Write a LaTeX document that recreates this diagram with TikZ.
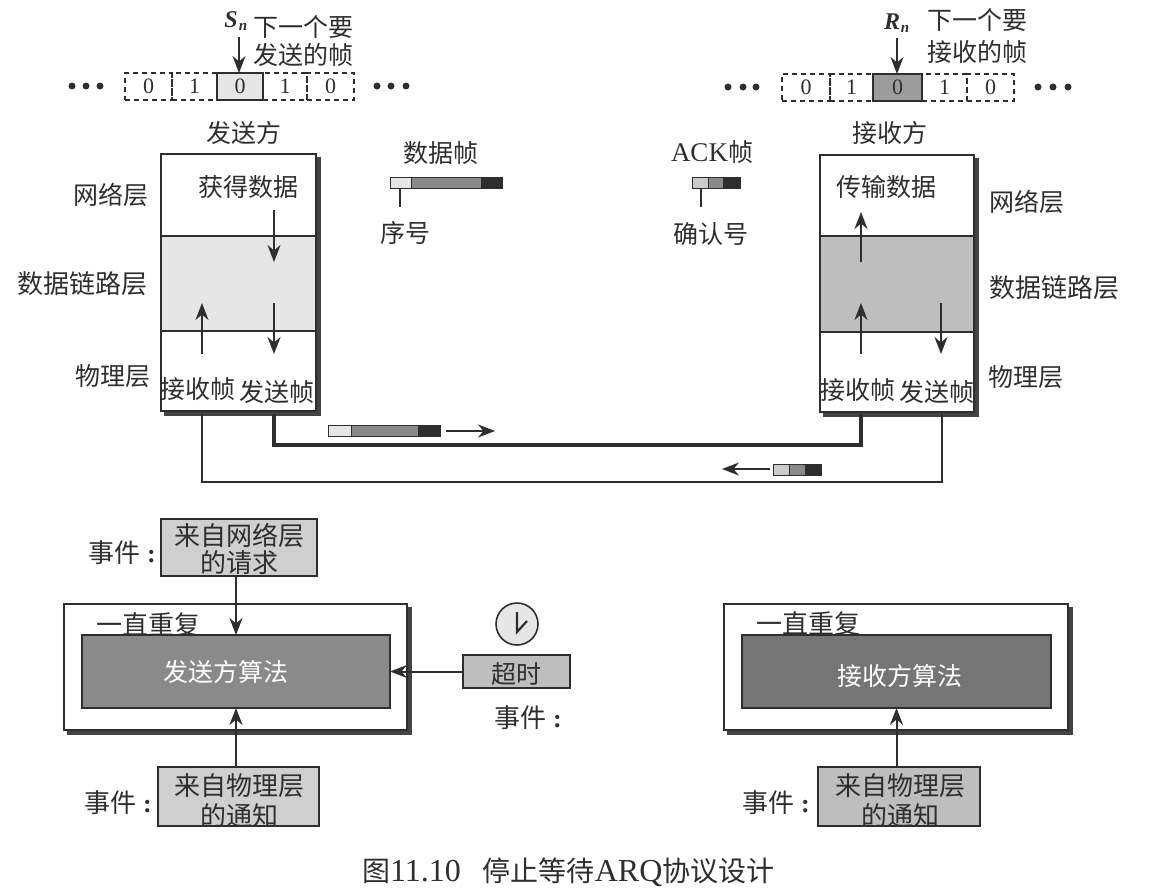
\documentclass[tikz,border=0pt]{standalone}
\usepackage{fontspec}
\setmainfont{Noto Sans CJK SC}
\newfontfamily\lat{Liberation Serif}
\usetikzlibrary{arrows.meta,fit,calc}
\newcommand\fs[1]{\fontsize{#1}{#1}\selectfont}
\newcommand\bx[6][]{\node[fit={(#3,#4)(#5,#6)},inner sep=0pt,outer sep=0pt,#1] (#2) {};}
\definecolor{ink}{HTML}{2E2E2E}
\definecolor{lightg}{HTML}{E6E6E6}
\definecolor{midg}{HTML}{BEBEBE}
\definecolor{darkg}{HTML}{8A8A8A}
\definecolor{evg}{HTML}{CFCFCF}
\newcommand\evlab{事件\hspace{7pt}{\lat\bfseries :}}
\tikzset{
  x=1pt,y=-1pt,
  every node/.style={text=ink},
  lab/.style={font=\fs{25},inner sep=0pt,outer sep=0pt},
  blab/.style={font=\fs{26},inner sep=0pt,outer sep=0pt},
  wlab/.style={font=\fs{25},inner sep=0pt,text=white},
  digit/.style={font=\lat\fs{22},inner sep=0pt},
  cell/.style={draw=ink,dashed,dash pattern=on 5pt off 4pt,line width=1.2pt},
  curcell/.style={draw=ink,solid,line width=2pt},
  layer/.style={draw=ink,line width=1.3pt},
  evbox/.style={draw=ink,line width=1.4pt,fill=evg},
  shade/.style={draw=ink!90,line width=4.5pt},
  arr/.style={draw=ink,line width=2pt,-{Stealth[length=17pt,width=13pt]}},
  wire/.style={draw=ink,line width=1.8pt},
  thickwire/.style={draw=ink,line width=3.2pt},
  dotmark/.style={circle,fill=ink,inner sep=0pt,minimum size=7pt},
  frA/.style={draw=ink,line width=1pt,fill=midg!80},
  frB/.style={draw=ink,line width=1pt,fill=darkg},
  frC/.style={draw=ink,line width=1pt,fill=ink},
}
\begin{document}
\begin{tikzpicture}
\useasboundingbox (0,0) rectangle (1154,894);

% --- sender window
\foreach \n/\x in {a/72,b/86,c/100,d/377,e/391,f/406}{\node[dotmark] (sd\n) at (\x,86) {};}
\bx[cell]{s0}{125}{73}{172}{100}
\bx[cell]{s1}{172}{73}{217}{100}
\bx[cell]{s3}{263}{73}{307}{100}
\bx[cell]{s4}{307}{73}{354}{100}
\bx[curcell,fill=lightg]{s2}{217}{73}{263}{100}
\node[digit] (s0t) at (s0) {0};
\node[digit] (s1t) at (s1) {1};
\node[digit] (s2t) at (s2) {0};
\node[digit] (s3t) at (s3) {1};
\node[digit] (s4t) at (s4) {0};
\node[lab,font=\lat\bfseries\itshape\fs{24}] (sn) at (231,20) {S};
\node[lab,font=\lat\bfseries\itshape\fs{15}] (snsub) at (243,27) {n};
\coordinate (snfrom) at (239,37);
\draw[arr] (snfrom) -- (s2.north -| snfrom);
\node[lab] (st1) at (303,27) {下一个要};
\node[lab] (st2) at (303,55) {发送的帧};

% --- receiver window
\foreach \n/\x in {a/728,b/743,c/756,d/1038,e/1053,f/1068}{\node[dotmark] (rd\n) at (\x,87) {};}
\bx[cell]{r0}{782}{74}{830}{101}
\bx[cell]{r1}{830}{74}{873}{101}
\bx[cell]{r3}{922}{74}{967}{101}
\bx[cell]{r4}{967}{74}{1014}{101}
\bx[curcell,fill=darkg!85]{r2}{873}{74}{922}{101}
\node[digit] (r0t) at (r0) {0};
\node[digit] (r1t) at (r1) {1};
\node[digit] (r2t) at (r2) {0};
\node[digit] (r3t) at (r3) {1};
\node[digit] (r4t) at (r4) {0};
\node[lab,font=\lat\bfseries\itshape\fs{24}] (rn) at (892,22) {R};
\node[lab,font=\lat\bfseries\itshape\fs{15}] (rnsub) at (905,29) {n};
\coordinate (rnfrom) at (897,38);
\draw[arr] (rnfrom) -- (r2.north -| rnfrom);
\node[lab] (rt1) at (977,20) {下一个要};
\node[lab] (rt2) at (977,52) {接收的帧};

% --- sender stack
\node[lab] (sender) at (244,133) {发送方};
\bx[layer,fill=white]{snet}{161}{154}{316}{236}
\bx[layer,fill=lightg]{sdll}{161}{236}{316}{331}
\bx[layer,fill=white]{sphy}{161}{331}{316}{411}
\draw[shade] ($(snet.north east)+(3,3)$) -- ($(sphy.south east)+(3,3)$) -- ($(sphy.south west)+(3,3)$);
\node[lab] (l1) at (111,195) {网络层};
\node[blab] (l2) at (82,284) {数据链路层};
\node[lab] (l3) at (113,376) {物理层};
\node[lab] (get) at (248,187) {获得数据};
\node[lab] (srx) at (198,389) {接收帧};
\node[lab] (stx) at (277,392) {发送帧};
\coordinate (sa1) at (274,210); \coordinate (sa2) at (274,262);
\coordinate (sa3) at (274,303); \coordinate (sa4) at (274,354);
\coordinate (sa5) at (202,354); \coordinate (sa6) at (202,303);
\draw[arr] (sa1) -- (sa2);
\draw[arr] (sa3) -- (sa4);
\draw[arr] (sa5) -- (sa6);

% --- receiver stack
\node[lab] (receiver) at (890,133) {接收方};
\bx[layer,fill=white]{rnet}{820}{155}{974}{236}
\bx[layer,fill=midg]{rdll}{820}{236}{974}{332}
\bx[layer,fill=white]{rphy}{820}{332}{974}{412}
\draw[shade] ($(rnet.north east)+(3,3)$) -- ($(rphy.south east)+(3,3)$) -- ($(rphy.south west)+(3,3)$);
\node[lab] (rl1) at (1027,202) {网络层};
\node[blab] (rl2) at (1054,288) {数据链路层};
\node[lab] (rl3) at (1026,377) {物理层};
\node[lab] (put) at (886,187) {传输数据};
\node[lab] (rrx) at (858,390) {接收帧};
\node[lab] (rtx) at (937,392) {发送帧};
\coordinate (ra1) at (861,262); \coordinate (ra2) at (861,212);
\coordinate (ra3) at (861,354); \coordinate (ra4) at (861,303);
\coordinate (ra5) at (941,303); \coordinate (ra6) at (941,354);
\draw[arr] (ra1) -- (ra2);
\draw[arr] (ra3) -- (ra4);
\draw[arr] (ra5) -- (ra6);

% --- links
\coordinate (w1) at (274,414); \coordinate (w2) at (861,414);
\coordinate (w3) at (202,414); \coordinate (w4) at (942,414);
\draw[thickwire] (w1) |- (274,445) -| (w2);
\draw[wire] (w3) |- (202,482) -| (w4);

% --- in-transit frames
\bx[frA,fill=lightg]{t1a}{328}{425}{351}{436}
\bx[frB]{t1b}{351}{425}{418}{436}
\bx[frC]{t1c}{418}{425}{440}{436}
\coordinate (t1e) at (495,431);
\coordinate (t1s) at (446,431);
\draw[arr] (t1s) -- (t1e);
\bx[frA]{t2a}{773}{464}{789}{475}
\bx[frB]{t2b}{789}{464}{805}{475}
\bx[frC]{t2c}{805}{464}{821}{475}
\coordinate (t2e) at (722,469);
\coordinate (t2s) at (770,469);
\draw[arr] (t2s) -- (t2e);

% --- legend frames
\node[lab] (dflab) at (441,153) {数据帧};
\bx[frA,fill=lightg]{f1a}{390}{177}{411}{188}
\bx[frB]{f1b}{411}{177}{481}{188}
\bx[frC]{f1c}{481}{177}{502}{188}
\node[lab] (seq) at (405,233) {序号};
\coordinate (f1l) at (400,207);
\draw[line width=1.2pt,draw=ink] (f1a.south -| f1l) -- (f1l);
\node[lab,font=\lat\fs{27}] (ackl) at (712,152) {ACK{\rmfamily\fs{25}帧}};
\bx[frA]{f2a}{692}{177}{708}{188}
\bx[frB]{f2b}{708}{177}{723}{188}
\bx[frC]{f2c}{723}{177}{740}{188}
\node[lab] (ackn) at (711,234) {确认号};
\coordinate (f2l) at (701,207);
\draw[line width=1.2pt,draw=ink] (f2a.south -| f2l) -- (f2l);

% --- sender algorithm
\bx[layer,fill=white]{souter}{64}{604}{407}{730}
\draw[shade] ($(souter.north east)+(3,3)$) -- ($(souter.south east)+(3,3)$) -- ($(souter.south west)+(3,3)$);
\node[blab] (srep) at (148,625) {一直重复};
\bx[layer,fill=darkg]{salg}{82}{635}{390}{708}
\node[wlab] (salgt) at (226,672) {发送方算法};
\bx[evbox]{sreq}{161}{519}{317}{576}
\node[blab] (sreq1) at (239,536) {来自网络层};
\node[blab] (sreq2) at (239,563) {的请求};
\node[blab,anchor=west] (sev1) at (88,553) {\evlab};
\bx[evbox]{sntf}{158}{767}{319}{826}
\node[blab] (sn1) at (239,786) {来自物理层};
\node[blab] (sn2) at (239,816) {的通知};
\node[blab,anchor=west] (sev2) at (84,803) {\evlab};
\bx[evbox,fill=midg]{tmo}{463}{655}{570}{688}
\node[lab] (tmot) at (516,674) {超时};
\node[blab,anchor=west] (sev3) at (494,718) {\evlab};
\node[circle,draw=ink,line width=1.6pt,fill=lightg,minimum size=42pt,inner sep=0pt] (clock) at (517,624) {};
\coordinate (hand) at (517,632);
\coordinate (handa) at (517,612);
\coordinate (handb) at (527,621);
\draw[line width=2.2pt,draw=ink] (handa) -- (hand) -- (handb);
\draw[arr] (sreq.south -| salg.north) -- (salg.north);
\draw[arr] (sntf.north -| salg.south) -- (salg.south);
\draw[arr] (tmo.west) -- (salg.east |- tmo.west);

% --- receiver algorithm
\bx[layer,fill=white]{router}{724}{604}{1068}{730}
\draw[shade] ($(router.north east)+(3,3)$) -- ($(router.south east)+(3,3)$) -- ($(router.south west)+(3,3)$);
\node[blab] (rrep) at (808,624) {一直重复};
\bx[layer,fill=darkg!85!black]{ralg}{742}{635}{1051}{708}
\node[wlab] (ralgt) at (900,676) {接收方算法};
\bx[evbox,fill=midg]{rntf}{818}{767}{980}{826}
\node[blab] (rn1) at (900,786) {来自物理层};
\node[blab] (rn2) at (900,816) {的通知};
\node[blab,anchor=west] (rev) at (742,803) {\evlab};
\draw[arr] (rntf.north -| ralg.south) -- (ralg.south);

% --- caption
\node[lab,anchor=west,font=\fs{28}] (cap) at (362,872) {图{\lat\fs{32}11.10}\hspace{22pt}停止等待{\lat\fs{32}ARQ}协议设计};
\end{tikzpicture}
\end{document}
